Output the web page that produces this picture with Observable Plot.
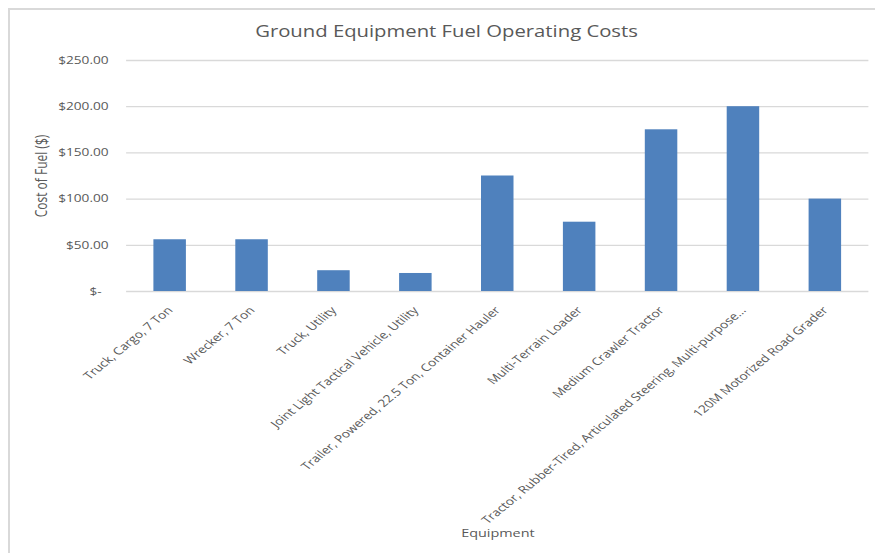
<!DOCTYPE html>
<html><head><meta charset="utf-8">
<script src="https://cdn.jsdelivr.net/npm/d3@7"></script>
<script src="https://cdn.jsdelivr.net/npm/@observablehq/plot@0.6"></script>
<style>
body{margin:0;background:#fff;font-family:"Open Sans",sans-serif;}
#wrap{position:relative;width:875px;height:553px;overflow:hidden;}
#bl{position:absolute;left:8px;top:8px;width:1.5px;height:545px;background:#d9d9d9}
#bt{position:absolute;left:8px;top:8px;height:1.5px;width:867px;background:#d9d9d9}
.stretch{transform:scaleX(1.3);transform-origin:0 0;}
#title{position:absolute;top:19px;left:0;width:687px;text-align:center;font-size:15.6px;line-height:24px;color:#595959}
#chart{position:absolute;top:48px;left:0}
</style></head><body>
<div id="wrap"><div id="bl"></div><div id="bt"></div><div id="title" class="stretch"></div><div id="chart" class="stretch"></div></div>
<script>
const chartTitle = "Ground Equipment Fuel Operating Costs";
const yLabel = "Cost of Fuel ($)";
const xLabel = "Equipment";
const categories = [
  "Truck, Cargo, 7 Ton",
  "Wrecker, 7 Ton",
  "Truck, Utility",
  "Joint Light Tactical Vehicle, Utility",
  "Trailer, Powered, 22.5 Ton, Container Hauler",
  "Multi-Terrain Loader",
  "Medium Crawler Tractor",
  "Tractor, Rubber-Tired, Articulated Steering, Multi-purpose...",
  "120M Motorized Road Grader"
];
const costs = [56, 56, 22.5, 19.5, 125, 75, 175, 200, 100];
const yTicks = [0, 50, 100, 150, 200, 250];

document.getElementById("title").textContent = chartTitle;
const data = categories.map((c, i) => ({equipment: c, cost: costs[i]}));
const fmt = d => d === 0 ? "$-\u2002" : "$" + d.toFixed(2);

const plot = Plot.plot({
  width: 673, height: 505,
  marginTop: 12, marginBottom: 262, marginLeft: 97, marginRight: 5,
  style: {fontFamily: "'Open Sans', sans-serif", fontSize: "11px", color: "#595959", background: "transparent", overflow: "visible"},
  x: {domain: categories, paddingInner: 0.6, paddingOuter: 0.3, axis: null},
  y: {domain: [0, 250], axis: null},
  marks: [
    Plot.gridY(yTicks, {stroke: "#d9d9d9", strokeOpacity: 1, strokeWidth: 1.3}),
    Plot.barY(data, {x: "equipment", y: "cost", fill: "#4f81bd"}),
    Plot.axisY(yTicks, {tickSize: 0, tickPadding: 14, tickFormat: fmt, fontSize: 10.5, fill: "#595959", label: null}),
    Plot.axisX({tickSize: 0, tickRotate: -47, tickPadding: 17, fontSize: 10.6, fill: "#595959", label: null}),
    Plot.text([yLabel], {frameAnchor: "left", textAnchor: "middle", rotate: -90, dx: -65, fontSize: 12, fill: "#595959"}),
    Plot.text([xLabel], {frameAnchor: "bottom", dy: 245, fontSize: 11.1, fill: "#595959"})
  ]
});
document.getElementById("chart").appendChild(plot);
</script>
</body></html>
